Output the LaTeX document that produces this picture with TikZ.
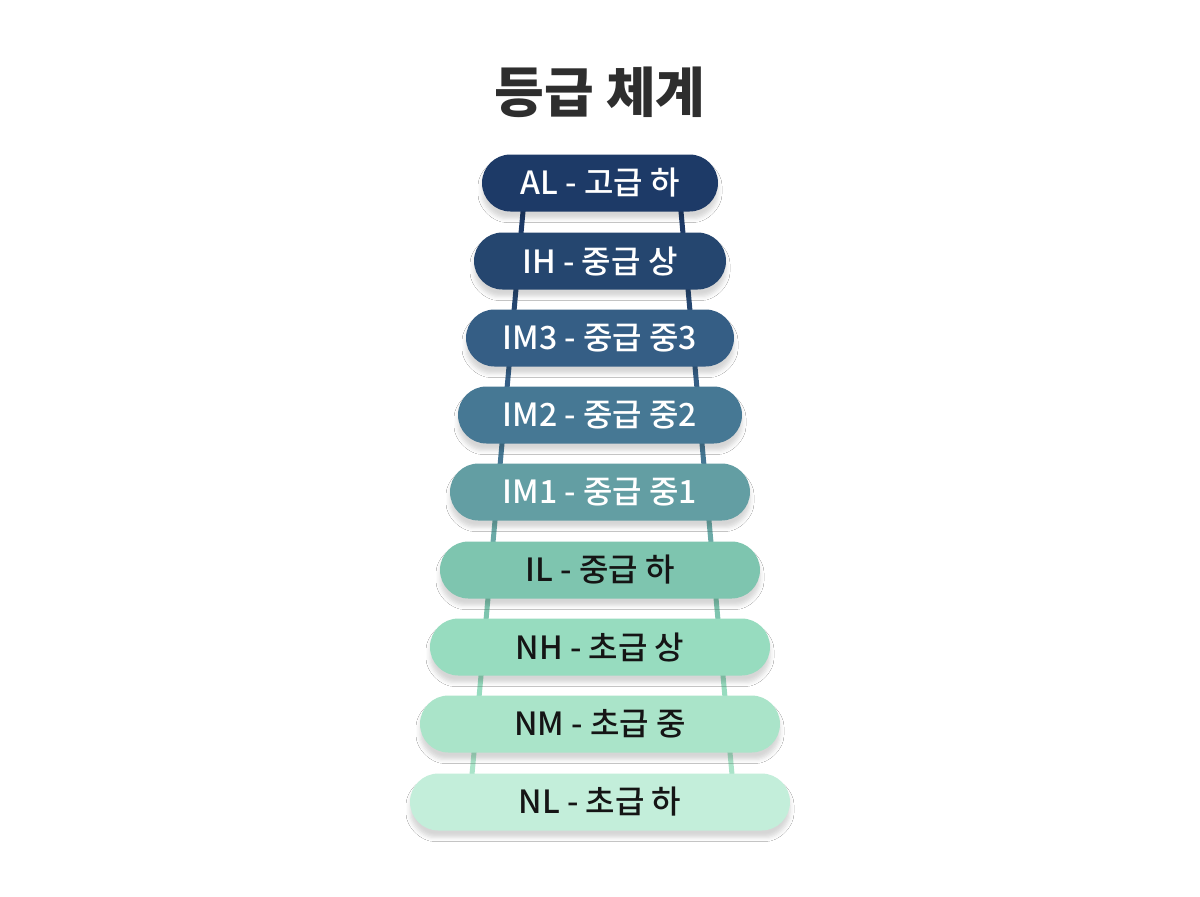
\documentclass[tikz,border=0pt]{standalone}
\usepackage{fontspec}
\newfontfamily\krfont{Noto Sans CJK KR}
\newfontfamily\krmedium{Noto Sans CJK KR Medium}
\usetikzlibrary{shapes.misc,shadows.blur}

\definecolor{lvAL}{HTML}{1D3A67}
\definecolor{lvIH}{HTML}{25466F}
\definecolor{lvIMthree}{HTML}{355E85}
\definecolor{lvIMtwo}{HTML}{467894}
\definecolor{lvIMone}{HTML}{639EA3}
\definecolor{lvIL}{HTML}{7EC5AF}
\definecolor{lvNH}{HTML}{97DCBF}
\definecolor{lvNM}{HTML}{AAE4C9}
\definecolor{lvNL}{HTML}{C3EEDA}
\definecolor{titlegray}{HTML}{2E2E2E}
\definecolor{darktext}{HTML}{151515}

\begin{document}
\begin{tikzpicture}[x=0.5pt,y=-0.5pt,
    rung/.style={rounded rectangle, minimum height=28.5pt, inner sep=0pt,
      font=\krmedium\fontsize{16}{19}\selectfont,
      blur shadow={shadow xshift=0pt, shadow yshift=-3.5pt, shadow opacity=16, shadow blur radius=2pt, shadow blur extra rounding=2pt}},
    rail/.style={line width=2.5pt}]
    \fill[white] (0,0) rectangle (1200,896);
    \useasboundingbox (0,0) rectangle (1200,896);
    % Title
    \node[anchor=base, text=titlegray, font=\krfont\bfseries\fontsize{27}{32}\selectfont] (title) at (600,112) {등급 체계};
    % Ladder rails
    \coordinate (L1) at (525.6,183);
    \coordinate (L2) at (518.5,261);
    \coordinate (L3) at (511.6,338);
    \coordinate (L4) at (504.6,415);
    \coordinate (L5) at (497.6,492);
    \coordinate (L6) at (490.5,570);
    \coordinate (L7) at (483.6,647);
    \coordinate (L8) at (476.6,724);
    \coordinate (L9) at (469.5,802);
    \coordinate (R1) at (678.4,183);
    \coordinate (R2) at (685.5,261);
    \coordinate (R3) at (692.4,338);
    \coordinate (R4) at (699.4,415);
    \coordinate (R5) at (706.4,492);
    \coordinate (R6) at (713.5,570);
    \coordinate (R7) at (720.4,647);
    \coordinate (R8) at (727.4,724);
    \coordinate (R9) at (734.5,802);
    \draw[rail,lvAL] (L1) -- (L2) (R1) -- (R2);
    \draw[rail,lvIH] (L2) -- (L3) (R2) -- (R3);
    \draw[rail,lvIMthree] (L3) -- (L4) (R3) -- (R4);
    \draw[rail,lvIMtwo] (L4) -- (L5) (R4) -- (R5);
    \draw[rail,lvIMone!70!lvIL] (L5) -- (L6) (R5) -- (R6);
    \draw[rail,lvIL] (L6) -- (L7) (R6) -- (R7);
    \draw[rail,lvNH] (L7) -- (L8) (R7) -- (R8);
    \draw[rail,lvNM] (L8) -- (L9) (R8) -- (R9);
    % Grade rungs
    \node[rung, fill=lvAL, text=white, minimum width=118pt] (AL) at (600,183) {AL - 고급 하};
    \node[rung, fill=lvIH, text=white, minimum width=126pt] (IH) at (600,261) {IH - 중급 상};
    \node[rung, fill=lvIMthree, text=white, minimum width=134pt] (IMthree) at (600,338) {IM3 - 중급 중3};
    \node[rung, fill=lvIMtwo, text=white, minimum width=142pt] (IMtwo) at (600,415) {IM2 - 중급 중2};
    \node[rung, fill=lvIMone, text=white, minimum width=150pt] (IMone) at (600,492) {IM1 - 중급 중1};
    \node[rung, fill=lvIL, text=darktext, minimum width=160pt] (IL) at (600,570) {IL - 중급 하};
    \node[rung, fill=lvNH, text=darktext, minimum width=170pt] (NH) at (600,647) {NH - 초급 상};
    \node[rung, fill=lvNM, text=darktext, minimum width=180pt] (NM) at (600,724) {NM - 초급 중};
    \node[rung, fill=lvNL, text=darktext, minimum width=190pt] (NL) at (600,802) {NL - 초급 하};
\end{tikzpicture}
\end{document}
